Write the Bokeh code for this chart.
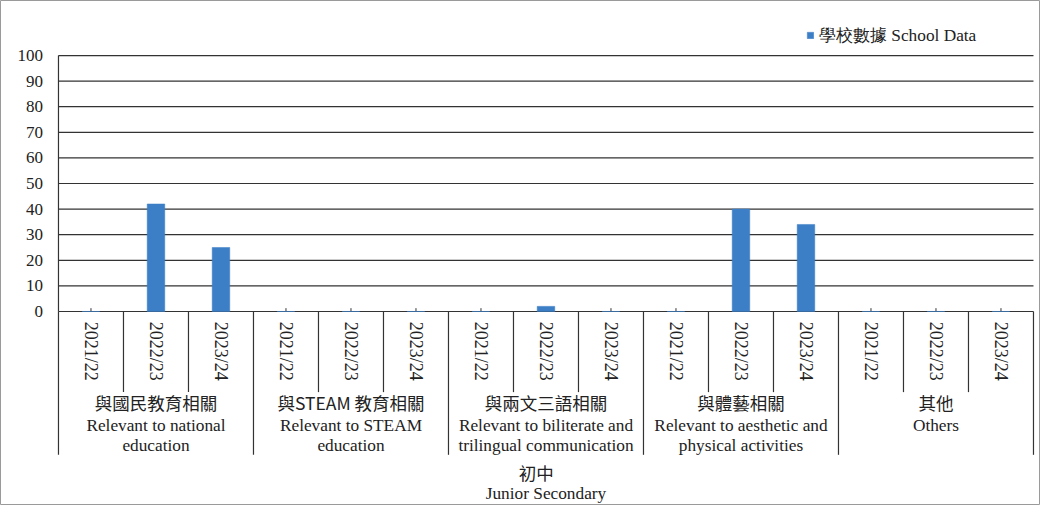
import math
from bokeh.plotting import figure
from bokeh.models import Range1d, Legend, LegendItem, ColumnDataSource
from bokeh.core.properties import value
from bokeh.embed import file_html
from bokeh.resources import INLINE

# ---- data ----
years = ["2021/22", "2022/23", "2023/24"]
groups_zh = ["與國民教育相關", "與STEAM 教育相關", "與兩文三語相關", "與體藝相關", "其他"]
groups_en_line1 = ["Relevant to national", "Relevant to STEAM", "Relevant to biliterate and",
                   "Relevant to aesthetic and", "Others"]
groups_en_line2 = ["education", "education", "trilingual communication", "physical activities", ""]
school_data = [0, 42, 25, 0, 0, 0, 0, 2, 0, 0, 40, 34, 0, 0, 0]
y_ticks = [0, 10, 20, 30, 40, 50, 60, 70, 80, 90, 100]
level_zh = "初中"
level_en = "Junior Secondary"
legend_label = "學校數據 School Data"

SERIF_NAME = "Liberation Serif"
SERIF = value(SERIF_NAME)
CJK = value("Noto Sans CJK TC")
TXT = "#222222"
LINE = "#333333"

n_years = len(years)
n_groups = len(groups_zh)
n_cats = n_years * n_groups

p = figure(width=1040, height=505, output_backend="svg", toolbar_location=None,
           x_range=Range1d(-0.892, 15.108), y_range=Range1d(-75.8, 121.5),
           min_border=0, min_border_left=0, min_border_right=0,
           min_border_top=0, min_border_bottom=0)
p.xaxis.visible = False
p.yaxis.visible = False
p.xgrid.visible = False
p.ygrid.visible = False
p.outline_line_color = "#9a9a9a"
p.outline_line_width = 1
p.background_fill_color = "white"
p.border_fill_color = "white"

# gridlines (including baseline)
p.segment(x0=[0] * len(y_ticks), x1=[n_cats] * len(y_ticks), y0=y_ticks, y1=y_ticks,
          line_color=LINE, line_width=1.2)
# left vertical axis line
p.segment(x0=[0], x1=[0], y0=[0], y1=[max(y_ticks)], line_color=LINE, line_width=1.2)
# y tick labels
p.text(x=[-0.24] * len(y_ticks), y=y_ticks, text=[str(t) for t in y_ticks],
       text_align="right", text_baseline="middle", text_font=SERIF,
       text_font_size="17px", text_color=TXT)

# category centres
centers = [i + 0.5 for i in range(n_cats)]
# small ticks at category centres
p.segment(x0=centers, x1=centers, y0=[0] * n_cats, y1=[1.3] * n_cats,
          line_color=LINE, line_width=1)

# separators below the axis
bounds = list(range(n_cats + 1))
for b in bounds:
    bottom = -56 if b % n_years == 0 else -31.5
    p.segment(x0=[b], x1=[b], y0=[0], y1=[bottom], line_color=LINE, line_width=1.2)

# bars
src = ColumnDataSource(dict(x=centers, top=school_data))
bars = p.vbar(x="x", top="top", bottom=0, width=0.27, source=src,
              fill_color="#3d7fc6", line_color="#3d7fc6", line_width=0.5)

# year labels (rotated)
year_labels = years * n_groups
p.text(x=centers, y=[-4.0] * n_cats, text=year_labels, angle=-math.pi / 2,
       text_align="left", text_baseline="middle", text_font=SERIF,
       text_font_size="18px", text_color=TXT)

# group labels
gcenters = [g * n_years + n_years / 2 for g in range(n_groups)]
p.text(x=gcenters, y=[-35.5] * n_groups, text=groups_zh, text_align="center",
       text_baseline="middle", text_font=CJK, text_font_size="17.5px", text_color=TXT)
p.text(x=gcenters, y=[-44.5] * n_groups, text=groups_en_line1, text_align="center",
       text_baseline="middle", text_font=SERIF, text_font_size="17.3px", text_color=TXT)
p.text(x=gcenters, y=[-52.2] * n_groups, text=groups_en_line2, text_align="center",
       text_baseline="middle", text_font=SERIF, text_font_size="17.3px", text_color=TXT)

# level label
p.text(x=[n_cats / 2 - 0.15], y=[-62.8], text=[level_zh], text_align="center",
       text_baseline="middle", text_font=CJK, text_font_size="17.5px", text_color=TXT)
p.text(x=[n_cats / 2], y=[-71.3], text=[level_en], text_align="center",
       text_baseline="middle", text_font=SERIF, text_font_size="17.3px", text_color=TXT)

# legend
legend = Legend(items=[LegendItem(label=legend_label, renderers=[bars])],
                location=(806, 458), orientation="horizontal",
                glyph_width=8, glyph_height=8, label_standoff=5,
                padding=0, margin=0, spacing=0,
                border_line_alpha=0, background_fill_alpha=0,
                label_text_font=SERIF_NAME, label_text_font_size="17.3px",
                label_text_color=TXT)
p.add_layout(legend)

open("out.html", "w").write(file_html(p, INLINE))
